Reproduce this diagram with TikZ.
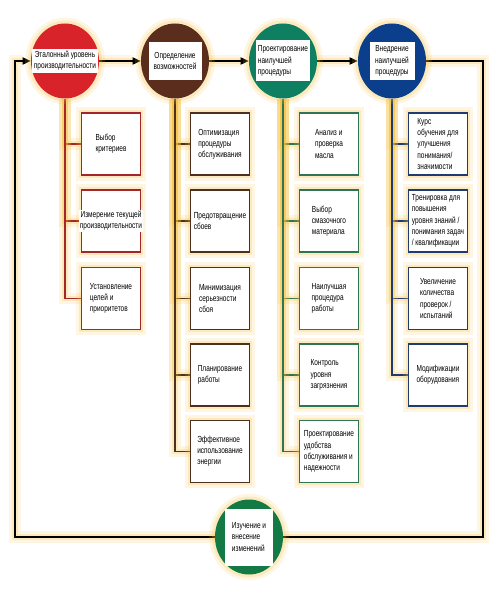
\documentclass[tikz,border=0pt]{standalone}
\usepackage{fontspec}
\setmainfont{Liberation Sans}[FakeStretch=0.74]
\usetikzlibrary{shapes.geometric,arrows.meta,backgrounds}

\definecolor{stepred}{HTML}{D8232A}
\definecolor{stepbrown}{HTML}{5A2D1C}
\definecolor{stepgreen}{HTML}{0F7F62}
\definecolor{stepblue}{HTML}{0B3F8C}
\definecolor{loopgreen}{HTML}{137A45}
\definecolor{boxred}{HTML}{A3262B}
\definecolor{boxbrown}{HTML}{4E3020}
\definecolor{boxgreen}{HTML}{2F7455}
\definecolor{boxblue}{HTML}{1E3C72}
\definecolor{glowc}{HTML}{F5BE3A}

\tikzset{
  glow/.style={preaction={draw=glowc,line width=10pt,opacity=0.15},
               preaction={draw=glowc,line width=5pt,opacity=0.22}},
  phase/.style={ellipse,draw=none,fill=#1,minimum width=2.04cm,minimum height=2.25cm,glow},
  phasetext/.style={fill=white,inner sep=1.5pt,font=\fontsize{7.5}{9.5}\selectfont},
  taskbox/.style={draw=#1,line width=1.3pt,fill=white,minimum width=1.76cm,
                  minimum height=1.86cm,align=left,inner sep=1.5pt,
                  font=\fontsize{7.5}{9.5}\selectfont,glow},
  branch/.style={draw=#1,line width=1.3pt},
  loopline/.style={line width=1.5pt,black},
  flow/.style={loopline,-{Triangle[length=7pt,width=6pt]}}
}

\begin{document}
\begin{tikzpicture}[x=0.03cm,y=-0.03cm]
\useasboundingbox (0,0) rectangle (500,596);

% Phases of the cycle
\node[phase=stepred]   (c1) at (65,61)  {};
\node[phase=stepbrown] (c2) at (175,61) {};
\node[phase=stepgreen] (c3) at (283,61) {};
\node[phase=stepblue]  (c4) at (392,61) {};
\node[phase=loopgreen] (c5) at (249,537) {};

\node[phasetext,align=center,minimum width=1.86cm,minimum height=0.72cm] (c1t) at (c1)
  {Эталонный уровень\\производительности};
\node[phasetext,align=center,minimum width=1.59cm,minimum height=1.14cm] (c2t) at (c2)
  {Определение\\возможностей};
\node[phasetext,align=left,minimum width=1.47cm,minimum height=1.23cm] (c3t) at (c3)
  {Проектирование\\наилучшей\\процедуры};
\node[phasetext,align=center,minimum width=1.35cm,minimum height=1.14cm] (c4t) at (c4)
  {Внедрение\\наилучшей\\процедуры};
\node[phasetext,align=left,minimum width=1.44cm,minimum height=1.71cm] (c5t) at (c5)
  {Изучение и\\внесение\\изменений};

% Column 1
\node[taskbox=boxred] (r1) at (111,144)   {Выбор\\критериев};
\node[taskbox=boxred,label={[fill=white,align=center,inner sep=1pt,
      font=\fontsize{7.5}{9.5}\selectfont]center:Измерение текущей\\производительности}]
      (r2) at (111,221) {};
\node[taskbox=boxred] (r3) at (111,298.5) {Установление\\целей и\\приоритетов};

% Column 2
\node[taskbox=boxbrown] (b1) at (220,144)   {Оптимизация\\процедуры\\обслуживания};
\node[taskbox=boxbrown] (b2) at (220,221)   {Предотвращение\\сбоев};
\node[taskbox=boxbrown] (b3) at (220,298.5) {Минимизация\\серьезности\\сбоя};
\node[taskbox=boxbrown] (b4) at (220,375)   {Планирование\\работы};
\node[taskbox=boxbrown] (b5) at (220,451.5) {Эффективное\\использование\\энергии};

% Column 3
\node[taskbox=boxgreen] (g1) at (329,144)   {Анализ и\\проверка\\масла};
\node[taskbox=boxgreen] (g2) at (329,221)   {Выбор\\смазочного\\материала};
\node[taskbox=boxgreen] (g3) at (329,298.5) {Наилучшая\\процедура\\работы};
\node[taskbox=boxgreen] (g4) at (329,375)   {Контроль\\уровня\\загрязнения};
\node[taskbox=boxgreen] (g5) at (329,451.5) {Проектирование\\удобства\\обслуживания и\\надежности};

% Column 4
\node[taskbox=boxblue] (u1) at (438,144)   {Курс\\обучения для\\улучшения\\понимания/\\значимости};
\node[taskbox=boxblue] (u2) at (438,221)   {Тренировка для\\повышения\\уровня знаний /\\понимания задач\\/ квалификации};
\node[taskbox=boxblue] (u3) at (438,298.5) {Увеличение\\количества\\проверок /\\испытаний};
\node[taskbox=boxblue] (u4) at (438,375)   {Модификации\\оборудования};

% Loop corners
\coordinate (cornertl) at (15,61);
\coordinate (cornerbl) at (15,537);
\coordinate (cornertr) at (483,61);
\coordinate (cornerbr) at (483,537);

\begin{scope}[on background layer]
% Branches
\foreach \t in {r1,r2,r3}
  \draw[branch=boxred,glow] (c1.south) |- (\t.west);
\foreach \t in {b1,b2,b3,b4,b5}
  \draw[branch=boxbrown,glow] (c2.south) |- (\t.west);
\foreach \t in {g1,g2,g3,g4,g5}
  \draw[branch=boxgreen,glow] (c3.south) |- (\t.west);
\foreach \t in {u1,u2,u3,u4}
  \draw[branch=boxblue,glow] (c4.south) |- (\t.west);

% Main cycle
\draw[flow,glow] (c1) -- (c2);
\draw[flow,glow] (c2) -- (c3);
\draw[flow,glow] (c3) -- (c4);
\draw[loopline,glow] (c4.east) -- (cornertr) -- (cornerbr) -- (c5.east);
\draw[flow,glow] (c5.west) -- (cornerbl) -- (cornertl) -- (c1.west);
\end{scope}

\end{tikzpicture}
\end{document}
